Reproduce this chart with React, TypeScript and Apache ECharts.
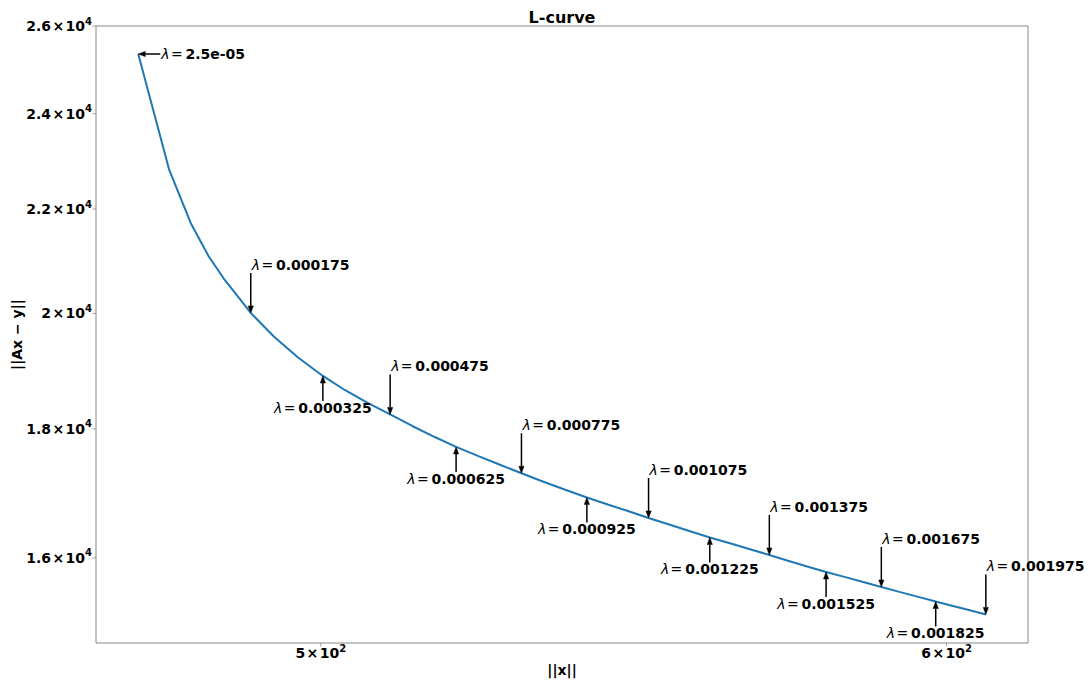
import React, { useEffect, useRef } from "react";
import * as echarts from "echarts";

// ||x|| (solution norm) and ||Ax - y|| (residual norm)
const solutionNorm = [
  474.1, 478.4, 481.4, 483.9, 486.2, 489.9, 493.2, 496.7, 500.3, 503.5,
  506.8, 510.2, 513.5, 516.8, 520.1, 523.5, 526.7, 530.1, 533.5, 536.8,
  540.3, 543.6, 546.8, 550.1, 553.4, 556.8, 560.0, 563.3, 566.6, 569.8,
  572.9, 576.1, 579.3, 582.4, 585.6, 588.7, 591.8, 594.9, 598.1, 601.1,
  603.9, 606.9,
];
const residualNorm = [
  25344, 22798, 21722, 21077, 20621, 20009, 19585, 19213, 18891, 18651,
  18436, 18239, 18048, 17871, 17706, 17559, 17424, 17286, 17152, 17031,
  16908, 16801, 16700, 16595, 16497, 16395, 16302, 16215, 16128, 16044,
  15959, 15876, 15797, 15726, 15652, 15582, 15512, 15445, 15377, 15314,
  15257, 15196,
];

// annotations
const lambdaLabels = [
  "2.5e-05", "0.000175", "0.000325", "0.000475", "0.000625", "0.000775",
  "0.000925", "0.001075", "0.001225", "0.001375", "0.001525", "0.001675",
  "0.001825", "0.001975",
];
const lambdaIndex = [0, 5, 8, 11, 14, 17, 20, 23, 26, 29, 32, 35, 38, 41];
const lambdaSide = [
  "left", "above", "below", "above", "below", "above", "below", "above",
  "below", "above", "below", "above", "below", "above",
];

// axes
const xMin = 468.3;
const xMax = 614.4;
const yMin = 14805;
const yMax = 26000;
const xTicks = [500, 600];
const xTickMantissa = ["5", "6"];
const xTickExponent = ["2", "2"];
const yTicks = [16000, 18000, 20000, 22000, 24000, 26000];
const yTickMantissa = ["1.6", "1.8", "2", "2.2", "2.4", "2.6"];
const yTickExponent = ["4", "4", "4", "4", "4", "4"];

const FONT = '"DejaVu Sans", "Noto Sans", sans-serif';

export default function App() {
  const ref = useRef<HTMLDivElement>(null);

  useEffect(() => {
    if (!ref.current) return;
    const chart = echarts.init(ref.current, null, { renderer: "svg" });
    const data = solutionNorm.map((x, i) => [x, residualNorm[i]]);
    chart.setOption({
      animation: false,
      grid: {
        left: 96,
        top: 26,
        right: 60,
        bottom: 41,
        show: true,
        borderColor: "#888",
        borderWidth: 1,
        backgroundColor: "transparent",
      },
      xAxis: {
        type: "log",
        min: xMin,
        max: xMax,
        axisLine: { show: false },
        axisTick: { show: false },
        axisLabel: { show: false },
        splitLine: { show: false },
      },
      yAxis: {
        type: "log",
        min: yMin,
        max: yMax,
        axisLine: { show: false },
        axisTick: { show: false },
        axisLabel: { show: false },
        splitLine: { show: false },
      },
      series: [
        {
          type: "line",
          data,
          showSymbol: false,
          symbol: "none",
          lineStyle: { color: "#1f77b4", width: 2 },
          z: 2,
        },
      ],
    });

    const toPx = (x: number, y: number) =>
      chart.convertToPixel({ gridIndex: 0 }, [x, y]) as number[];
    const left = 96;
    const top = 26;
    const right = 1088 - 60;
    const bottom = 684 - 41;
    const cx = (left + right) / 2;
    const cy = (top + bottom) / 2;

    const g: any[] = [];
    const labelStyle = (text: string, align: string) => ({
      text,
      fill: "#000",
      fontFamily: FONT,
      fontWeight: "bold",
      fontSize: 14,
      align,
      verticalAlign: "middle",
    });
    const tickRich = {
      b: { fontFamily: FONT, fontWeight: "bold", fontSize: 14, lineHeight: 20, fill: "#000" },
      m: { fontFamily: FONT, fontWeight: "bold", fontSize: 14, lineHeight: 20, fill: "#000" },
      s: {
        fontFamily: FONT,
        fontWeight: "bold",
        fontSize: 10,
        lineHeight: 11,
        verticalAlign: "top",
        fill: "#000",
      },
    };
    const tickText = (m: string, e: string) =>
      `{b|${m}}{m|\u200A×\u200A}{b|10}{s|${e}}`;

    yTicks.forEach((v, i) => {
      const p = toPx(xMin, v);
      g.push({
        type: "line",
        shape: { x1: left - 3.5, y1: p[1], x2: left, y2: p[1] },
        style: { stroke: "#888", lineWidth: 0.8 },
      });
      g.push({
        type: "text",
        x: left - 4,
        y: p[1],
        style: {
          text: tickText(yTickMantissa[i], yTickExponent[i]),
          rich: tickRich,
          align: "right",
          verticalAlign: "middle",
        },
      });
    });
    xTicks.forEach((v, i) => {
      const p = toPx(v, yMin);
      g.push({
        type: "line",
        shape: { x1: p[0], y1: bottom, x2: p[0], y2: bottom + 3.5 },
        style: { stroke: "#888", lineWidth: 0.8 },
      });
      g.push({
        type: "text",
        x: p[0],
        y: bottom + 10,
        style: {
          text: tickText(xTickMantissa[i], xTickExponent[i]),
          rich: tickRich,
          align: "center",
          verticalAlign: "middle",
        },
      });
    });

    g.push({
      type: "text",
      x: cx,
      y: 17,
      style: { ...labelStyle("L-curve", "center"), fontSize: 16 },
    });
    g.push({ type: "text", x: cx, y: 670, style: labelStyle("||x||", "center") });
    g.push({
      type: "text",
      x: 17,
      y: cy,
      rotation: Math.PI / 2,
      style: labelStyle("||Ax − y||", "center"),
    });

    const rich = {
      l: { fontFamily: FONT, fontStyle: "italic", fontSize: 14, fill: "#000" },
      e: { fontFamily: FONT, fontSize: 14, fill: "#000" },
      n: { fontFamily: FONT, fontWeight: "bold", fontSize: 14, fill: "#000" },
    };
    const annText = (s: string) => `{l|λ}{e|\u200A=\u2009}{n|${s}}`;
    const arrow = (x1: number, y1: number, x2: number, y2: number) => {
      const dx = x2 - x1;
      const dy = y2 - y1;
      const len = Math.hypot(dx, dy);
      const ux = dx / len;
      const uy = dy / len;
      const hl = 7;
      const hw = 2.6;
      const bx = x2 - ux * hl;
      const by = y2 - uy * hl;
      g.push({
        type: "line",
        shape: { x1, y1, x2: bx, y2: by },
        style: { stroke: "#000", lineWidth: 1.5 },
        z: 10,
      });
      g.push({
        type: "polygon",
        shape: {
          points: [
            [x2, y2],
            [bx - uy * hw, by + ux * hw],
            [bx + uy * hw, by - ux * hw],
          ],
        },
        style: { fill: "#000", stroke: "#000", lineWidth: 0.5 },
        z: 10,
      });
    };

    lambdaIndex.forEach((idx, k) => {
      const p = toPx(solutionNorm[idx], residualNorm[idx]);
      const side = lambdaSide[k];
      const txt = annText(lambdaLabels[k]);
      if (side === "left") {
        arrow(p[0] + 22, p[1], p[0], p[1]);
        g.push({
          type: "text",
          x: p[0] + 23,
          y: p[1],
          z: 10,
          style: { text: txt, rich, align: "left", verticalAlign: "middle" },
        });
      } else if (side === "above") {
        arrow(p[0], p[1] - 40, p[0], p[1]);
        g.push({
          type: "text",
          x: p[0] + 1,
          y: p[1] - 48,
          z: 10,
          style: { text: txt, rich, align: "left", verticalAlign: "middle" },
        });
      } else {
        arrow(p[0], p[1] + 25, p[0], p[1]);
        g.push({
          type: "text",
          x: p[0],
          y: p[1] + 32,
          z: 10,
          style: { text: txt, rich, align: "center", verticalAlign: "middle" },
        });
      }
    });

    chart.setOption({ graphic: g });
    return () => chart.dispose();
  }, []);

  return (
    <div
      ref={ref}
      style={{ position: "fixed", left: 0, top: 0, width: 1088, height: 684, background: "#fff" }}
    />
  );
}
